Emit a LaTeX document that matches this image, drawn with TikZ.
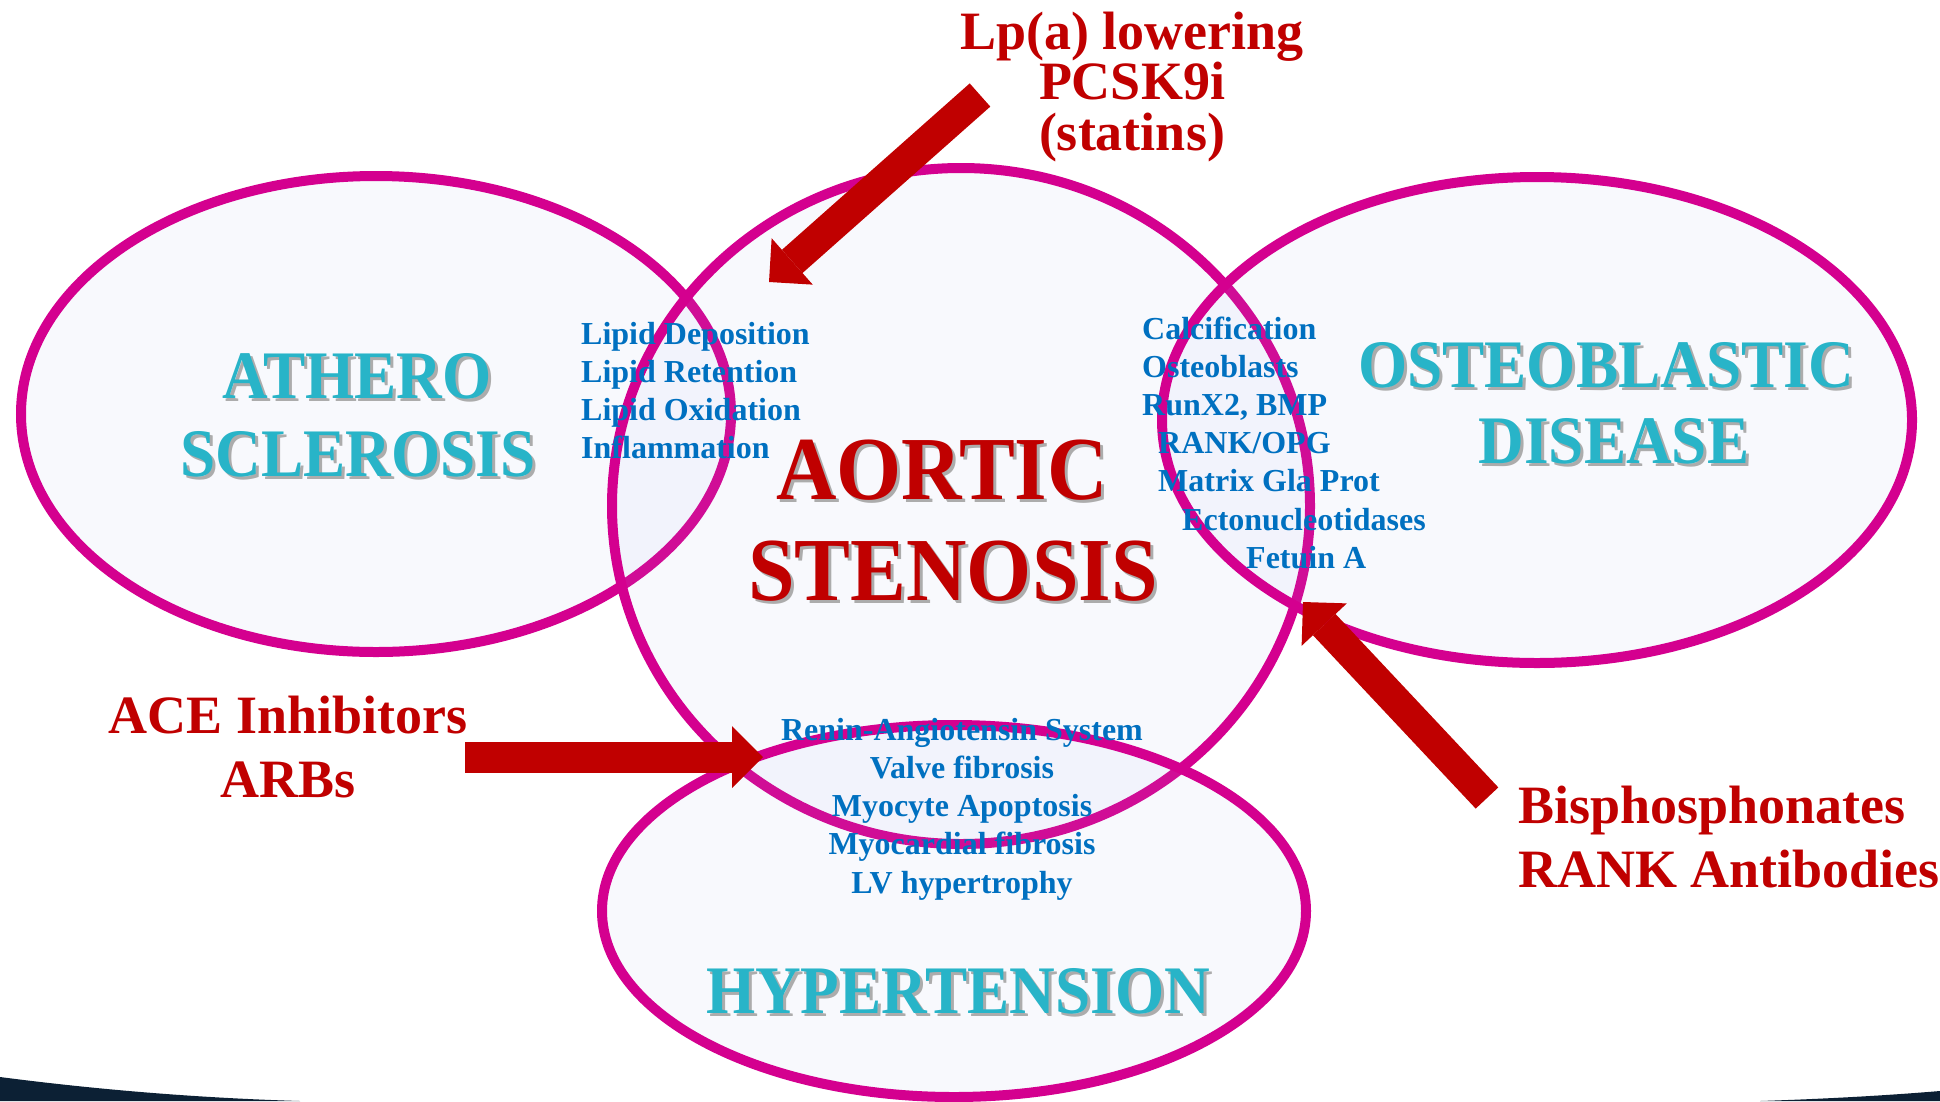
\documentclass[tikz,border=0pt]{standalone}
\usepackage{fontspec}
\setmainfont{Liberation Serif}
\newfontfamily\titulofont{Liberation Serif}[FakeStretch=0.93]
\usetikzlibrary{arrows.meta}
\definecolor{borde}{RGB}{212,0,143}
\definecolor{relleno}{RGB}{170,175,240}
\definecolor{cian}{RGB}{40,180,200}
\definecolor{rojo}{RGB}{192,0,0}
\definecolor{azul}{RGB}{0,112,192}
\definecolor{sombra}{RGB}{172,172,172}
\definecolor{fondo}{RGB}{12,32,52}
\tikzset{
  elipse/.style={draw=borde, line width=10pt, fill=relleno, fill opacity=0.075},
  titulo/.style={inner sep=0pt, anchor=base, font=\titulofont\bfseries\fontsize{#1}{#1}\selectfont},
  etiqueta/.style={inner sep=0pt, rojo, font=\bfseries\fontsize{54}{54}\selectfont},
  lista/.style={inner sep=0pt, azul, font=\bfseries\fontsize{32}{32}\selectfont},
  flecha/.style={rojo, line width=31pt, -{Triangle[length=31pt, width=62pt, line width=0pt]}}
}
\begin{document}
\begin{tikzpicture}[x=1pt, y=-1pt]
    \useasboundingbox (0,0) rectangle (1940,1101);
    \fill[white] (0,0) rectangle (1940,1101);
    % Banda oscura inferior
    \fill[fondo] (0,1101) -- (0,1077) .. controls (100,1090) and (200,1098) .. (300,1101) -- cycle;
    \fill[fondo] (1940,1101) -- (1940,1091) .. controls (1880,1096) and (1820,1099) .. (1760,1101) -- cycle;
    % Elipses
    \draw[elipse] (376,414) ellipse [x radius=355, y radius=238];
    \draw[elipse] (961,506) ellipse [x radius=349, y radius=338];
    \draw[elipse] (1537,420) ellipse [x radius=375, y radius=243];
    \draw[elipse] (954,911) ellipse [x radius=352, y radius=186];
    % Titulos con sombra
    \foreach \nom/\xx/\yy/\col/\tam/\txt in {
        aortic/942/499/rojo/90/AORTIC, stenosis/953/600/rojo/90/STENOSIS,
        athero/357/398/cian/68/ATHERO, sclerosis/358/476/cian/68/SCLEROSIS,
        osteo/1606/387/cian/68/OSTEOBLASTIC, disease/1614/463/cian/68/DISEASE,
        hiper/958/1013/cian/68/HYPERTENSION} {
        \node[titulo=\tam, sombra] (\nom S) at (\xx+3,\yy+3) {\txt};
        \node[titulo=\tam, \col] (\nom) at (\xx,\yy) {\txt};
    }
    % Listas azules
    \foreach \txt [count=\i] in {Lipid Deposition, Lipid Retention, Lipid Oxidation, Inflammation}
        \node[lista, anchor=base west] (lip\i) at (581,{344+38*(\i-1)}) {\txt};
    \foreach \xx/\txt [count=\i] in {1142/Calcification, 1142/Osteoblasts, 1142/{RunX2, BMP},
        1158/RANK\slash OPG, 1158/Matrix Gla Prot, 1182/Ectonucleotidases, 1246/Fetuin A}
        \node[lista, anchor=base west] (cal\i) at (\xx,{339+38.2*(\i-1)}) {\txt};
    \foreach \txt [count=\i] in {Renin-Angiotensin System, Valve fibrosis, Myocyte Apoptosis,
        Myocardial fibrosis, LV hypertrophy}
        \node[lista, anchor=base] (ras\i) at (962,{740+38.25*(\i-1)}) {\txt};
    % Tratamientos
    \node[etiqueta, anchor=base] (lpa1) at (1132,49) {Lp(a) lowering};
    \node[etiqueta, anchor=base] (lpa2) at (1132,99) {PCSK9i};
    \node[etiqueta, anchor=base] (lpa3) at (1132,150) {(statins)};
    \node[etiqueta, anchor=base] (ace1) at (288,733) {ACE Inhibitors};
    \node[etiqueta, anchor=base] (ace2) at (288,797) {ARBs};
    \node[etiqueta, anchor=base west] (bis1) at (1518,823) {Bisphosphonates};
    \node[etiqueta, anchor=base west] (bis2) at (1518,887) {RANK Antibodies};
    % Flechas
    \coordinate (lpaCola) at (980,95);
    \coordinate (lpaPunta) at (769,282);
    \coordinate (aceCola) at (465,757);
    \coordinate (acePunta) at (763,757);
    \coordinate (bisCola) at (1487,798);
    \coordinate (bisPunta) at (1303,602);
    \draw[flecha] (lpaCola) -- (lpaPunta);
    \draw[flecha] (aceCola) -- (acePunta);
    \draw[flecha] (bisCola) -- (bisPunta);
\end{tikzpicture}
\end{document}
